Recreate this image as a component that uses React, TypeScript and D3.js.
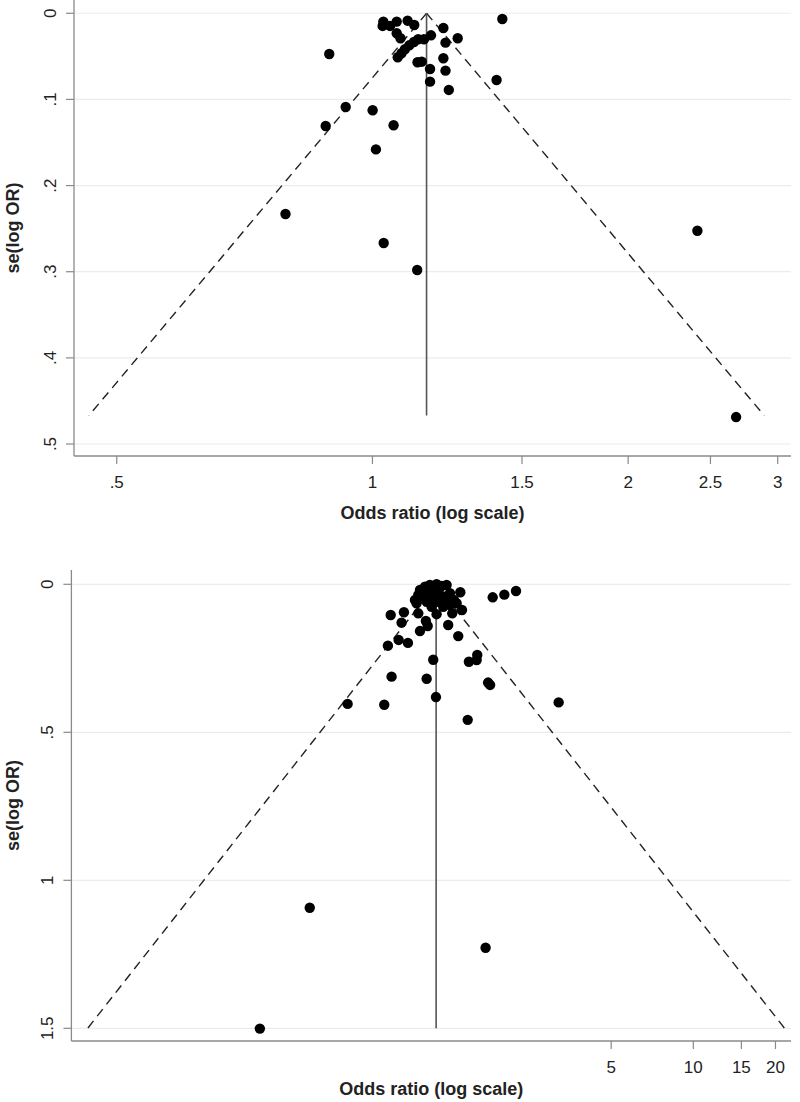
import React from "react";
import * as d3 from "d3";

// ---------- Data: panel A (top) ----------
const topOR = [
  0.790, 1.031, 1.129, 2.413, 2.680,
  0.8895, 0.930, 0.881, 1.0005, 1.0095, 1.059,
  1.422, 1.40, 1.230, 1.169, 1.169, 1.219, 1.212, 1.219, 1.26, 1.212,
  1.130, 1.143, 1.172, 1.150, 1.132, 1.119, 1.105, 1.092, 1.082, 1.071,
  1.068, 1.079, 1.030, 1.028, 1.049, 1.068, 1.100, 1.12,
];
const topSE = [
  0.233, 0.2667, 0.298, 0.2524, 0.4687,
  0.0473, 0.1088, 0.1308, 0.1126, 0.158, 0.130,
  0.0066, 0.0774, 0.089, 0.0794, 0.0647, 0.0666, 0.0522, 0.0341, 0.029, 0.0171,
  0.0569, 0.0562, 0.0256, 0.0302, 0.0302, 0.0333, 0.0372, 0.0418, 0.0464, 0.0511,
  0.0232, 0.029, 0.0097, 0.0147, 0.0147, 0.0097, 0.0086, 0.0136,
];
const topPooled = 1.158;
const topSEMax = 0.467;
const topXTicks = [0.5, 1, 1.5, 2, 2.5, 3];
const topXTickLabels = [".5", "1", "1.5", "2", "2.5", "3"];
const topYTicks = [0, 0.1, 0.2, 0.3, 0.4, 0.5];
const topYTickLabels = ["0", ".1", ".2", ".3", ".4", ".5"];

// ---------- Data: panel B (bottom) ----------
const botOR = [
  0.393, 0.258, 1.733, 1.49,
  0.541, 0.737, 0.784, 1.054, 1.14, 1.114, 1.77, 1.80, 1.505, 1.615, 1.607, 3.21,
  1.84, 2.03, 2.24, 0.760, 0.832, 0.90, 0.996, 1.376, 1.264, 0.778, 0.853, 0.870,
  1.047, 1.063, 0.982, 1.146, 1.308, 1.42, 1.40, 1.327, 1.357, 1.283, 1.212, 1.099,
  0.968, 0.955,
  0.996, 1.039, 1.083, 1.146, 1.196, 1.247, 0.982, 1.024, 1.083, 1.130, 1.179, 1.230,
  1.283, 1.054, 1.162, 1.247, 1.114,
];
const botSE = [
  1.0926, 1.501, 1.228, 0.458,
  0.404, 0.4068, 0.312, 0.319, 0.381, 0.255, 0.332, 0.340, 0.2615, 0.239, 0.2557, 0.399,
  0.044, 0.035, 0.0226, 0.2074, 0.188, 0.198, 0.158, 0.175, 0.1375, 0.1037, 0.1297, 0.0946,
  0.124, 0.141, 0.098, 0.101, 0.098, 0.0868, 0.027, 0.053, 0.064, 0.07, 0.0757, 0.0757,
  0.064, 0.053,
  0.0193, 0.008, 0.0024, 0.0, 0.0057, 0.0024, 0.036, 0.042, 0.030, 0.025, 0.036, 0.042,
  0.030, 0.059, 0.059, 0.053, 0.053,
];
const botPooled = 1.1417;
const botSEMax = 1.5;
const botXTicks = [5, 10, 15, 20];
const botXTickLabels = ["5", "10", "15", "20"];
const botYTicks = [0, 0.5, 1, 1.5];
const botYTickLabels = ["0", ".5", "1", "1.5"];

const FONT = "'Liberation Sans', Arial, Helvetica, sans-serif";

type PanelProps = {
  or: number[];
  se: number[];
  pooled: number;
  seMax: number;
  xTicks: number[];
  xTickLabels: string[];
  yTicks: number[];
  yTickLabels: string[];
  xDomain: [number, number];
  yDomain: [number, number];
  top: number;
  bottom: number;
  left: number;
  right: number;
  titleOffset: number;
};

function Panel(p: PanelProps) {
  const x = d3.scaleLog().domain(p.xDomain).range([p.left, p.right]);
  const y = d3.scaleLinear().domain(p.yDomain).range([p.top, p.bottom]);
  const line = d3
    .line<[number, number]>()
    .x((d) => x(d[0]))
    .y((d) => y(d[1]));
  const lo = p.pooled * Math.exp(-1.96 * p.seMax);
  const hi = p.pooled * Math.exp(1.96 * p.seMax);
  const leftTri: [number, number][] = [
    [p.pooled, 0],
    [lo, p.seMax],
  ];
  const rightTri: [number, number][] = [
    [p.pooled, 0],
    [hi, p.seMax],
  ];
  const vert: [number, number][] = [
    [p.pooled, 0],
    [p.pooled, p.seMax],
  ];
  const midY = (p.top + p.bottom) / 2;
  const midX = (p.left + p.right) / 2;
  return (
    <g>
      {p.yTicks.map((t, i) => (
        <line
          key={"g" + i}
          x1={p.left}
          x2={p.right}
          y1={y(t)}
          y2={y(t)}
          stroke="#ececec"
          strokeWidth={1.2}
        />
      ))}
      <line x1={p.left} x2={p.left} y1={p.top} y2={p.bottom} stroke="#8a8a8a" strokeWidth={1.3} />
      <line x1={p.left} x2={p.right} y1={p.bottom} y2={p.bottom} stroke="#8a8a8a" strokeWidth={1.3} />
      {p.yTicks.map((t, i) => (
        <g key={"yt" + i}>
          <line x1={p.left - 8} x2={p.left} y1={y(t)} y2={y(t)} stroke="#8a8a8a" strokeWidth={1.2} />
          <text
            transform={`translate(${p.left - 24},${y(t)}) rotate(-90)`}
            textAnchor="middle"
            dominantBaseline="central"
            fontFamily={FONT}
            fontSize={17}
            fill="#222"
          >
            {p.yTickLabels[i]}
          </text>
        </g>
      ))}
      {p.xTicks.map((t, i) => (
        <g key={"xt" + i}>
          <line x1={x(t)} x2={x(t)} y1={p.bottom} y2={p.bottom + 8} stroke="#8a8a8a" strokeWidth={1.2} />
          <text
            x={x(t)}
            y={p.bottom + 32}
            textAnchor="middle"
            fontFamily={FONT}
            fontSize={17}
            fill="#222"
          >
            {p.xTickLabels[i]}
          </text>
        </g>
      ))}
      <text
        transform={`translate(13,${midY}) rotate(-90)`}
        textAnchor="middle"
        dominantBaseline="central"
        fontFamily={FONT}
        fontWeight="bold"
        fontSize={18}
        fill="#222"
      >
        se(log OR)
      </text>
      <text
        x={midX}
        y={p.bottom + p.titleOffset}
        textAnchor="middle"
        fontFamily={FONT}
        fontWeight="bold"
        fontSize={18}
        fill="#222"
      >
        Odds ratio (log scale)
      </text>
      <path d={line(leftTri) || ""} fill="none" stroke="#222" strokeWidth={1.4} strokeDasharray="9,6" />
      <path d={line(rightTri) || ""} fill="none" stroke="#222" strokeWidth={1.4} strokeDasharray="9,6" />
      <path d={line(vert) || ""} fill="none" stroke="#555" strokeWidth={1.6} />
      {p.or.map((v, i) => (
        <circle key={"p" + i} cx={x(v)} cy={y(p.se[i])} r={5.2} fill="#000" />
      ))}
    </g>
  );
}

export default function App() {
  return (
    <svg
      width={800}
      height={1102}
      style={{ position: "absolute", left: 0, top: 0, background: "#fff" }}
    >
      <rect width={800} height={1102} fill="#fff" />
      <Panel
        or={topOR}
        se={topSE}
        pooled={topPooled}
        seMax={topSEMax}
        xTicks={topXTicks}
        xTickLabels={topXTickLabels}
        yTicks={topYTicks}
        yTickLabels={topYTickLabels}
        xDomain={[0.4453, 3.11]}
        yDomain={[-0.0154, 0.5139]}
        top={0}
        bottom={456}
        left={74}
        right={791}
        titleOffset={63}
      />
      <Panel
        or={botOR}
        se={botSE}
        pooled={botPooled}
        seMax={botSEMax}
        xTicks={botXTicks}
        xTickLabels={botXTickLabels}
        yTicks={botYTicks}
        yTickLabels={botYTickLabels}
        xDomain={[0.0526, 22.8]}
        yDomain={[-0.0483, 1.5429]}
        top={570}
        bottom={1041}
        left={71.4}
        right={791}
        titleOffset={54}
      />
    </svg>
  );
}
